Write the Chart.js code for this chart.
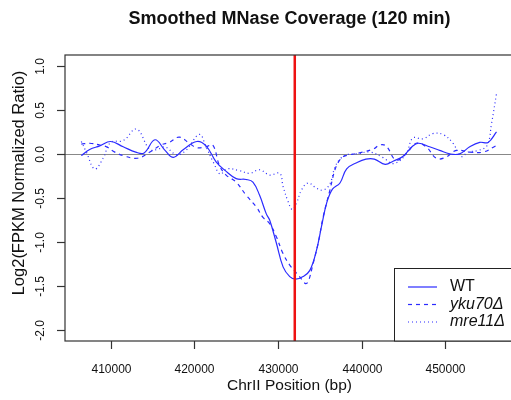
<!DOCTYPE html>
<html>
<head>
<meta charset="utf-8">
<script src="https://cdn.jsdelivr.net/npm/chart.js@4"></script>
<style>
  html, body { margin: 0; padding: 0; background: #fff; overflow: hidden; }
  #wrap { width: 520px; height: 400px; }
</style>
</head>
<body>
<div id="wrap"><canvas id="covChart" width="520" height="400"></canvas></div>
<script>
// positions (bp) and smoothed log2 ratios
const wtPos = [406500, 407500, 408700, 410000, 411500, 413000, 414000, 415300, 416500, 417500,
  418700, 420300, 421400, 422600, 423700, 425000, 426200, 427000, 427800, 428600,
  429000, 429800, 430600, 431400, 432100, 433000, 433800, 434600, 435200, 435800,
  436500, 437400, 438200, 439400, 440500, 441500, 442800, 443800, 444900, 446100,
  446800, 448100, 449300, 450500, 451700, 452900, 454100, 455100, 456100];
const wtVal = [-0.02, 0.05, 0.09, 0.14, 0.08, 0.02, 0.01, 0.16, 0.04, -0.04,
  0.05, 0.14, 0.09, -0.09, -0.19, -0.28, -0.29, -0.32, -0.47, -0.68,
  -0.75, -1.01, -1.28, -1.39, -1.42, -1.39, -1.32, -1.09, -0.82, -0.56,
  -0.40, -0.33, -0.17, -0.10, -0.06, -0.06, -0.12, -0.08, -0.03, 0.09,
  0.12, 0.08, 0.04, 0.00, 0.00, 0.08, 0.13, 0.13, 0.25];

const ykuPos = [406500, 407500, 408700, 409500, 410500, 411500, 413200, 414700, 416000, 417000,
  418200, 419400, 420300, 421400, 422200, 423000, 423800, 425000, 426200, 427400,
  428200, 429000, 429800, 430600, 431400, 432200, 433000, 433300, 433600, 434200,
  434800, 435400, 436200, 436800, 437300, 437800, 438600, 440100, 441500, 442100,
  442900, 444100, 445300, 446500, 447700, 448900, 450000, 451300, 452900, 454500, 456000];
const ykuVal = [0.11, 0.12, 0.10, 0.08, 0.02, -0.02, -0.05, 0.02, 0.10, 0.13,
  0.19, 0.12, 0.07, 0.08, 0.10, -0.13, -0.24, -0.32, -0.47, -0.60,
  -0.72, -0.79, -0.94, -1.13, -1.26, -1.35, -1.44, -1.47, -1.45, -1.24,
  -1.01, -0.71, -0.41, -0.18, -0.08, -0.03, -0.01, 0.02, 0.06, 0.10,
  0.09, -0.07, 0.00, 0.12, 0.08, -0.05, -0.04, 0.04, 0.02, 0.02, 0.09];

const mrePos = [406500, 407100, 408100, 409100, 410000, 411500, 413100, 414700, 415900, 416500,
  417900, 419000, 420600, 421400, 422300, 423100, 423900, 425400, 426600, 427800,
  429000, 430200, 430600, 431200, 431700, 432200, 432800, 433600, 434600, 435400,
  436200, 436800, 437400, 438200, 439400, 441000, 442500, 443800, 445300, 446100,
  447300, 448500, 449700, 450900, 451900, 452700, 454000, 455000, 455500, 456100];
const mreVal = [0.14, 0.02, -0.17, -0.05, 0.13, 0.15, 0.28, 0.05, 0.06, 0.08,
  -0.01, 0.04, 0.22, 0.08, -0.10, -0.23, -0.17, -0.19, -0.22, -0.18,
  -0.24, -0.22, -0.37, -0.54, -0.63, -0.56, -0.41, -0.33, -0.39, -0.41,
  -0.34, -0.15, -0.06, -0.01, 0.00, 0.02, -0.04, -0.11, 0.00, 0.18,
  0.17, 0.23, 0.22, 0.12, -0.03, 0.02, 0.04, 0.10, 0.34, 0.68];

const xTicks = [410000, 420000, 430000, 440000, 450000];
const yTicks = [1.0, 0.5, 0.0, -0.5, -1.0, -1.5, -2.0];
const yTickLabels = ['1.0', '0.5', '0.0', '-0.5', '-1.0', '-1.5', '-2.0'];
const breakPos = 432000;
const legendLabels = ['WT', 'yku70\u0394', 'mre11\u0394'];

const lineBlue = '#2b2bff';
const dashes = [[], [4, 4], [1, 3]];
const FONT = '"Liberation Sans", Arial, sans-serif';

function toPoints(xs, ys) {
    return xs.map((x, i) => ({ x: x, y: ys[i] }));
}

// R-style axes, box, reference lines and legend
const baseR = {
    id: 'baseR',
    beforeDatasetsDraw(chart) {
        const ctx = chart.ctx;
        const y = chart.scales.y;
        const a = chart.chartArea;
        const py = Math.round(y.getPixelForValue(0)) + 0.5;
        ctx.save();
        ctx.strokeStyle = '#888';
        ctx.lineWidth = 1;
        ctx.beginPath();
        ctx.moveTo(a.left, py);
        ctx.lineTo(a.right, py);
        ctx.stroke();
        ctx.restore();
    },
    afterDatasetsDraw(chart) {
        const ctx = chart.ctx;
        const x = chart.scales.x, y = chart.scales.y;
        const a = chart.chartArea;
        ctx.save();
        // red break line
        ctx.strokeStyle = '#ee1111';
        ctx.lineWidth = 2.5;
        ctx.beginPath();
        ctx.moveTo(x.getPixelForValue(breakPos), a.top);
        ctx.lineTo(x.getPixelForValue(breakPos), a.bottom);
        ctx.stroke();

        // box
        ctx.strokeStyle = '#333';
        ctx.lineWidth = 1.2;
        ctx.strokeRect(a.left, a.top, a.right - a.left, a.bottom - a.top);

        // x ticks
        ctx.fillStyle = '#111';
        ctx.font = '12px ' + FONT;
        ctx.textAlign = 'center';
        ctx.textBaseline = 'middle';
        xTicks.forEach(v => {
            const px = Math.round(x.getPixelForValue(v)) + 0.5;
            ctx.beginPath();
            ctx.moveTo(px, a.bottom);
            ctx.lineTo(px, a.bottom + 8);
            ctx.stroke();
            ctx.fillText(String(v), px, 370);
        });

        // y ticks, labels rotated like R
        yTicks.forEach((v, i) => {
            const py = Math.round(y.getPixelForValue(v)) + 0.5;
            ctx.beginPath();
            ctx.moveTo(a.left, py);
            ctx.lineTo(a.left - 8, py);
            ctx.stroke();
            ctx.save();
            ctx.translate(41, py);
            ctx.rotate(-Math.PI / 2);
            ctx.fillText(yTickLabels[i], 0, 0);
            ctx.restore();
        });

        // axis titles
        ctx.font = '15.5px ' + FONT;
        ctx.fillText('ChrII Position (bp)', (a.left + a.right) / 2, 386);
        ctx.save();
        ctx.translate(19, 183);
        ctx.rotate(-Math.PI / 2);
        ctx.font = '16.5px ' + FONT;
        ctx.fillText('Log2(FPKM Normalized Ratio)', 0, 0);
        ctx.restore();

        // main title
        ctx.font = 'bold 18px ' + FONT;
        ctx.fillText('Smoothed MNase Coverage (120 min)', (a.left + a.right) / 2, 19);

        // legend
        const lx = 394.5, ly = 268.5;
        ctx.fillStyle = '#fff';
        ctx.fillRect(lx, ly, a.right - lx, a.bottom - ly);
        ctx.strokeStyle = '#222';
        ctx.lineWidth = 1;
        ctx.strokeRect(lx, ly, a.right - lx, a.bottom - ly);
        const rows = [287, 304.5, 322];
        legendLabels.forEach((lab, i) => {
            ctx.strokeStyle = lineBlue;
            ctx.lineWidth = 1.2;
            ctx.setLineDash(dashes[i]);
            ctx.beginPath();
            ctx.moveTo(408, rows[i]);
            ctx.lineTo(437, rows[i]);
            ctx.stroke();
            ctx.setLineDash([]);
            ctx.fillStyle = '#111';
            ctx.textAlign = 'left';
            ctx.font = (i === 0 ? '' : 'italic ') + '16px ' + FONT;
            ctx.fillText(lab, 450, rows[i]);
        });
        ctx.restore();
    }
};

const ctx = document.getElementById('covChart').getContext('2d');
new Chart(ctx, {
    type: 'line',
    data: {
        datasets: [
            { label: 'WT', data: toPoints(wtPos, wtVal), borderDash: dashes[0] },
            { label: 'yku70\u0394', data: toPoints(ykuPos, ykuVal), borderDash: dashes[1] },
            { label: 'mre11\u0394', data: toPoints(mrePos, mreVal), borderDash: dashes[2] }
        ].map(d => Object.assign(d, {
            borderColor: lineBlue,
            borderWidth: 1.2,
            pointRadius: 0,
            fill: false,
            tension: 0.4
        }))
    },
    options: {
        responsive: false,
        animation: false,
        layout: { padding: { left: 65, right: 6, top: 55, bottom: 59 } },
        plugins: { legend: { display: false }, tooltip: { enabled: false } },
        scales: {
            x: { type: 'linear', min: 404550, max: 458190, display: false },
            y: { type: 'linear', min: -2.12, max: 1.12, display: false }
        }
    },
    plugins: [baseR]
});
</script>
</body>
</html>
